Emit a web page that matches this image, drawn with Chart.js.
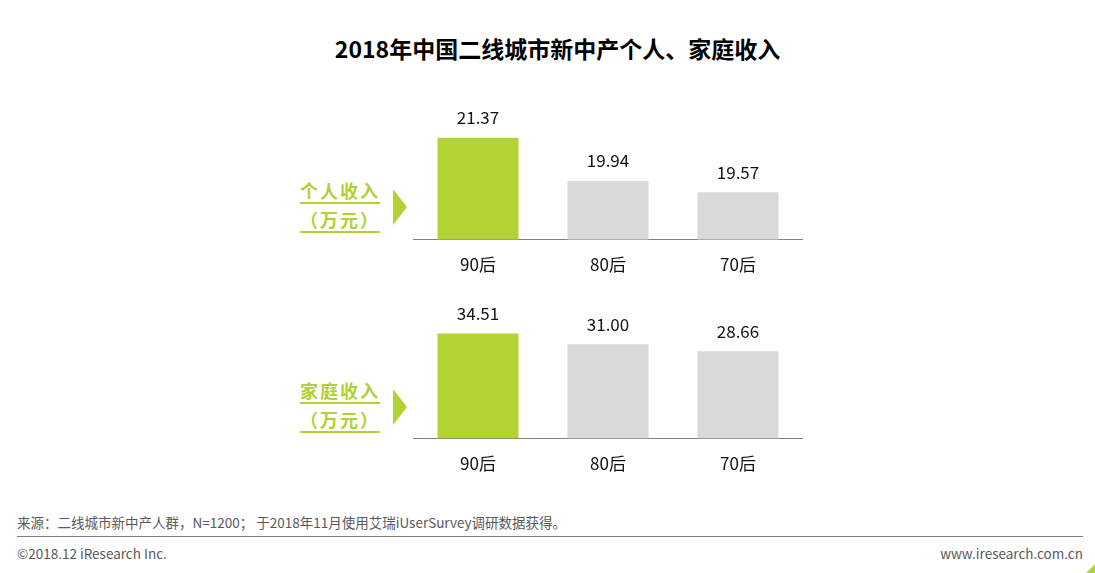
<!DOCTYPE html>
<html>
<head>
<meta charset="utf-8">
<script src="https://cdn.jsdelivr.net/npm/chart.js@4"></script>
<style>
  body { margin: 0; width: 1095px; height: 573px; background: #fff; position: relative; overflow: hidden;
         font-family: "Noto Sans CJK SC", "Noto Sans", sans-serif; }
  .abs { position: absolute; }
  #title { left: 0; width: 1115px; top: 31px; text-align: center; font-size: 23px; font-weight: bold; color: #000; }
  .side { left: 294px; width: 92px; text-align: center; color: #b0d136; font-weight: bold; font-size: 18px;
          line-height: 29px; letter-spacing: 2px; }
  .side span { text-decoration: underline; text-decoration-thickness: 2px; text-underline-offset: 4px; }
  .tri { width: 0; height: 0; border-top: 18px solid transparent; border-bottom: 18px solid transparent;
         border-left: 14px solid #b3d234; }
  canvas { position: absolute; }
  .foot { font-size: 13.5px; color: #595959; }
</style>
</head>
<body>
<div id="title" class="abs">2018年中国二线城市新中产个人、家庭收入</div>

<div class="abs side" style="top:176px"><span>个人收入</span><br><span>（万元）</span></div>
<div class="abs tri" style="left:393px;top:189px"></div>
<div class="abs side" style="top:376px"><span>家庭收入</span><br><span>（万元）</span></div>
<div class="abs tri" style="left:393px;top:389px"></div>

<div style="position:absolute;left:413px;top:100px;width:390px;height:190px"><canvas id="personal"></canvas></div>
<div style="position:absolute;left:413px;top:300px;width:390px;height:189px"><canvas id="family"></canvas></div>

<div class="abs foot" style="left:17px;top:512px">来源：二线城市新中产人群，N=1200； 于2018年11月使用艾瑞iUserSurvey调研数据获得。</div>
<div class="abs" style="left:17px;top:536px;width:1066px;height:1px;background:#7f7f7f"></div>
<div class="abs foot" style="left:17px;top:543px">©2018.12 iResearch Inc.</div>
<div class="abs foot" style="right:12px;top:543px">www.iresearch.com.cn</div>
<div class="abs" style="right:0;bottom:0;width:0;height:0;border-left:9px solid transparent;border-bottom:9px solid #b3d234"></div>

<script>
const ageGroups = ['90后', '80后', '70后'];
const personalIncome = [21.37, 19.94, 19.57];
const familyIncome = [34.51, 31.00, 28.66];

const green = '#b3d234';
const grey = '#d9d9d9';

// draws the value above each bar
const valueLabels = {
    id: 'valueLabels',
    afterDatasetsDraw(chart) {
        const ctx = chart.ctx;
        ctx.save();
        ctx.font = '17px "Noto Sans CJK SC", "Noto Sans", sans-serif';
        ctx.fillStyle = '#111';
        ctx.textAlign = 'center';
        ctx.textBaseline = 'middle';
        chart.getDatasetMeta(0).data.forEach((bar, i) => {
            const v = chart.data.datasets[0].data[i];
            ctx.fillText(v.toFixed(2), bar.x, bar.y - 20);
        });
        ctx.restore();
    }
};

function makeChart(id, values, yMin, yMax) {
    return new Chart(document.getElementById(id), {
        type: 'bar',
        data: {
            labels: ageGroups,
            datasets: [{
                data: values,
                backgroundColor: [green, grey, grey],
                categoryPercentage: 1,
                barPercentage: 0.623,
            }],
        },
        options: {
            responsive: true,
            maintainAspectRatio: false,
            animation: false,
            layout: { padding: 0 },
            plugins: { legend: { display: false }, tooltip: { enabled: false } },
            scales: {
                x: {
                    grid: { display: false, drawTicks: false },
                    border: { display: true, color: '#808080', width: 1 },
                    ticks: {
                        padding: 15,
                        color: '#111',
                        font: { size: 17, family: '"Noto Sans CJK SC", "Noto Sans", sans-serif' },
                    },
                },
                y: { display: false, min: yMin, max: yMax },
            },
        },
        plugins: [valueLabels],
    });
}

const personalChart = makeChart('personal', personalIncome, 18, 22.62);
const familyChart = makeChart('family', familyIncome, 0, 45.5);
</script>
</body>
</html>
